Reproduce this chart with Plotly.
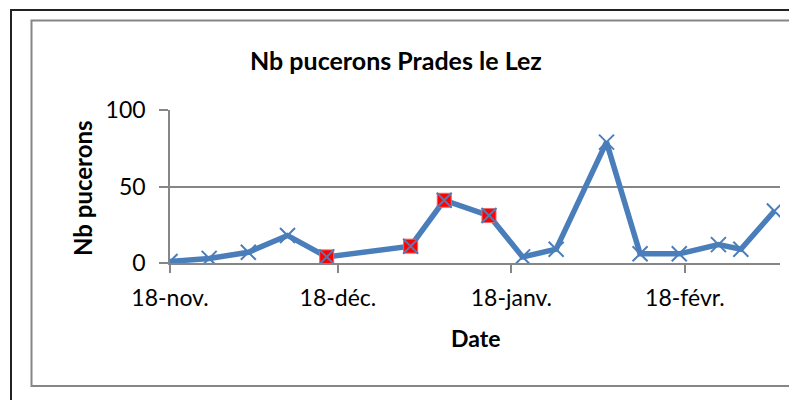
import plotly.graph_objects as go

# ---- data ----
dates = ["2013-11-18", "2013-11-25", "2013-12-02", "2013-12-09", "2013-12-16",
         "2013-12-31", "2014-01-06", "2014-01-14", "2014-01-20", "2014-01-26",
         "2014-02-04", "2014-02-10", "2014-02-17", "2014-02-24", "2014-02-28",
         "2014-03-06"]
values = [1, 3, 7, 18, 4, 11, 41, 31, 4, 9, 79, 6, 6, 12, 9, 34]
highlight = [False, False, False, False, True, True, True, True,
             False, False, False, False, False, False, False, False]
tick_dates = ["2013-11-18", "2013-12-18", "2014-01-18", "2014-02-18"]
tick_labels = ["18-nov.", "18-déc.", "18-janv.", "18-févr."]
y_ticks = [0, 50, 100]

title = "Nb pucerons Prades le Lez"
y_title = "Nb pucerons"
x_title = "Date"

BLUE = "#4A7EBB"
GRAY = "#868686"
FONT = "Lato, sans-serif"

W, H = 797, 400
OFF = 8  # default page body margin
L, R, T, B = 170, 780, 110, 263  # plot area in page pixels


def px(x):
    return (x - L) / (R - L)


def py(y):
    return (B - y) / (B - T)


hx = [d for d, h in zip(dates, highlight) if h]
hy = [v for v, h in zip(values, highlight) if h]

fig = go.Figure()
fig.add_trace(go.Scatter(x=dates, y=values, mode="lines",
                         line=dict(color=BLUE, width=5.5), hoverinfo="skip"))
fig.add_trace(go.Scatter(x=hx, y=hy, mode="markers",
                         marker=dict(symbol="square", size=14, color="#FF0000",
                                     line=dict(color="#E86A6A", width=1))))
fig.add_trace(go.Scatter(x=dates, y=values, mode="markers",
                         marker=dict(symbol="x-thin", size=15,
                                     line=dict(color=BLUE, width=2))))

fig.update_layout(
    width=W, height=H,
    margin=dict(l=L - OFF, r=W - (R - OFF), t=T - OFF, b=H - (B - OFF), pad=0),
    paper_bgcolor="white", plot_bgcolor="white",
    showlegend=False,
    font=dict(family=FONT, size=23, color="black"),
)
fig.update_xaxes(
    type="date",
    range=["2013-11-18", "2014-03-07"],
    tickmode="array", tickvals=tick_dates, ticktext=tick_labels,
    showgrid=False, zeroline=False,
    showline=True, linecolor=GRAY, linewidth=1.5,
    ticks="outside", ticklen=8, tickcolor=GRAY, tickwidth=1.5,
    tickfont=dict(family=FONT, size=23, color="black"),
    ticklabelstandoff=6,
)
fig.update_yaxes(
    range=[0, 100],
    tickmode="array", tickvals=y_ticks,
    showgrid=True, gridcolor=GRAY, gridwidth=1.5,
    zeroline=False,
    showline=True, linecolor=GRAY, linewidth=1.5,
    ticks="outside", ticklen=9, tickcolor=GRAY, tickwidth=1.5,
    tickfont=dict(family=FONT, size=23, color="black"),
    ticklabelstandoff=9,
)

annos = [
    dict(text="<b>%s</b>" % title, x=px(396), y=py(60), xanchor="center", yanchor="middle",
         font=dict(size=25)),
    dict(text="<b>%s</b>" % x_title, x=px(475), y=py(338), xanchor="center", yanchor="middle",
         font=dict(size=23)),
    dict(text="<b>%s</b>" % y_title, x=px(82), y=py(188), xanchor="center", yanchor="middle",
         textangle=-90, font=dict(size=24)),
]
for a in annos:
    a.update(xref="paper", yref="paper", showarrow=False)
    fig.add_annotation(**a)

# frames
fig.add_shape(type="rect", xref="paper", yref="paper",
              x0=px(11), x1=px(830), y0=py(10), y1=py(430),
              line=dict(color="#222222", width=2), fillcolor="rgba(0,0,0,0)", layer="below")
fig.add_shape(type="rect", xref="paper", yref="paper",
              x0=px(31.5), x1=px(830), y0=py(20.5), y1=py(386),
              line=dict(color=GRAY, width=2), fillcolor="rgba(0,0,0,0)", layer="below")

fig.write_html("out.html")
